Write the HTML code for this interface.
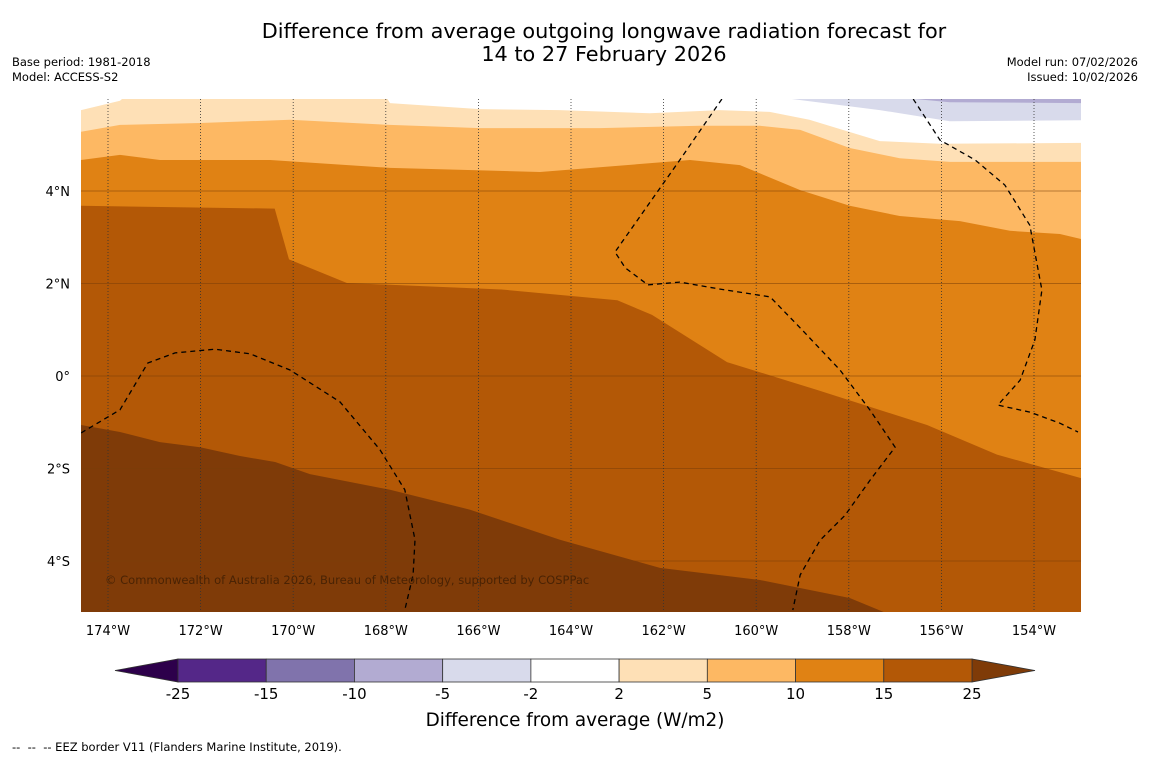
<!DOCTYPE html>
<html><head><meta charset="utf-8"><style>
body{margin:0;background:#fff;width:1150px;height:758px;overflow:hidden;font-family:"DejaVu Sans","Liberation Sans",sans-serif}
</style></head><body>
<svg id="s" width="1150" height="758" xmlns="http://www.w3.org/2000/svg" font-family="DejaVu Sans, Liberation Sans, sans-serif">
<text x="604" y="38" font-size="20.8" text-anchor="middle">Difference from average outgoing longwave radiation forecast for</text>
<text x="604" y="61" font-size="20.8" text-anchor="middle">14 to 27 February 2026</text>
<text x="12" y="66" font-size="11.5">Base period: 1981-2018</text>
<text x="12" y="81" font-size="11.5">Model: ACCESS-S2</text>
<text x="1138" y="66" font-size="11.5" text-anchor="end">Model run: 07/02/2026</text>
<text x="1138" y="81" font-size="11.5" text-anchor="end">Issued: 10/02/2026</text>
<g id="map"></g>
<g id="cb"></g>
<text x="575" y="726" font-size="18.4" text-anchor="middle">Difference from average (W/m2)</text>
<text x="12" y="751" font-size="11.5" xml:space="preserve" style="white-space:pre">--  --  -- EEZ border V11 (Flanders Marine Institute, 2019).</text>
</svg>
<script>
const lonTicks=[-174,-172,-170,-168,-166,-164,-162,-160,-158,-156,-154];
const latTicks=[4,2,0,-2,-4];
const levels=["-25","-15","-10","-5","-2","2","5","10","15","25"];
const levelColors=["#542788","#8073ac","#b2abd2","#d8daeb","#ffffff","#fee0b6","#fdb863","#e08214","#b35806"];
const b25=[[-174.58,-1.06],[-173.74,-1.21],[-172.88,-1.43],[-172.01,-1.54],[-171.15,-1.73],[-170.39,-1.86],[-169.64,-2.12],[-167.91,-2.46],[-166.18,-2.89],[-164.24,-3.54],[-162.08,-4.15],[-159.92,-4.41],[-157.98,-4.80],[-157.01,-5.2],[-152.5,-5.5]];
const b15=[[-174.58,3.68],[-170.4,3.62],[-170.09,2.52],[-168.84,2.01],[-165.5,1.87],[-163.0,1.64],[-162.25,1.32],[-160.63,0.30],[-158.69,-0.30],[-156.31,-1.06],[-154.80,-1.70],[-152.98,-2.21]];
const b10=[[-174.58,4.67],[-173.74,4.78],[-172.88,4.67],[-170.50,4.67],[-167.91,4.50],[-164.67,4.41],[-161.43,4.67],[-160.35,4.56],[-159.05,4.02],[-157.98,3.68],[-156.90,3.46],[-155.60,3.35],[-154.52,3.14],[-153.44,3.07],[-152.98,2.96]];
const b5=[[-174.58,5.28],[-173.74,5.43],[-172.01,5.47],[-170.07,5.54],[-167.91,5.43],[-165.97,5.36],[-163.38,5.36],[-161.22,5.41],[-159.92,5.41],[-159.05,5.32],[-157.98,4.93],[-156.90,4.71],[-155.82,4.63],[-152.98,4.63]];
const b2=[[-174.58,5.75],[-173.74,5.95],[-173.63,6.05],[-168.0,6.05],[-167.91,5.90],[-165.97,5.77],[-164.24,5.75],[-162.30,5.68],[-160.79,5.75],[-159.71,5.71],[-158.85,5.54],[-157.33,5.08],[-156.04,5.02],[-152.98,5.04]];
const bm2=[[-159.71,6.05],[-157.33,5.75],[-155.82,5.51],[-152.98,5.53]];
const bm5=[[-157.22,6.05],[-155.82,5.92],[-152.98,5.90]];
const eezA=[[-174.58,-1.23],[-173.74,-0.73],[-173.14,0.28],[-172.55,0.50],[-171.69,0.58],[-170.93,0.48],[-170.07,0.13],[-168.99,-0.56],[-168.13,-1.59],[-167.59,-2.46],[-167.37,-3.54],[-167.41,-4.30],[-167.59,-5.06]];
const eezB=[[-160.74,5.99],[-161.65,4.67],[-163.05,2.68],[-162.83,2.34],[-162.34,1.97],[-161.65,2.03],[-160.78,1.88],[-159.70,1.71],[-159.05,1.04],[-158.19,0.13],[-157.54,-0.74],[-157.0,-1.54],[-157.54,-2.25],[-158.08,-3.01],[-158.62,-3.55],[-159.05,-4.30],[-159.21,-5.06]];
const eezC=[[-156.61,5.99],[-156.03,5.10],[-155.27,4.67],[-154.63,4.13],[-154.09,3.26],[-153.83,1.86],[-153.98,0.78],[-154.30,-0.09],[-154.78,-0.63],[-154.09,-0.78],[-153.44,-1.02],[-153.05,-1.21]];
const X0=-174,X1=-154,PX0=108,PX1=1034,Y0=4,Y1=-4,PY0=191,PY1=561;
const L=81,R=1081,T=99,B=612;
function xs(lon){return PX0+(lon-X0)*(PX1-PX0)/(X1-X0);}
function ys(lat){return PY0+(lat-Y0)*(PY1-PY0)/(Y1-Y0);}
const NS="http://www.w3.org/2000/svg";
const map=document.getElementById('map');
function mk(tag,attrs,parent){const e=document.createElementNS(NS,tag);for(const k in attrs)e.setAttribute(k,attrs[k]);parent.appendChild(e);return e;}
const defs=mk('defs',{},map);
const cp=mk('clipPath',{id:'clip'},defs);mk('rect',{x:L,y:T,width:R-L,height:B-T},cp);
const g=mk('g',{'clip-path':'url(#clip)'},map);
let bg=mk('rect',{x:L,y:T,width:R-L,height:B-T,fill:'#7f3b08'},g);


function above(line,fill,name){
  let d='M'+line.map(p=>xs(p[0]).toFixed(1)+','+ys(p[1]).toFixed(1)).join(' L')+` L${R+20},${T-20} L${L-20},${T-20} Z`;
  const p=mk('path',{d:d,fill:fill},g);
  
  
}
above(b25,'#b35806','region-15-25');
above(b15,'#e08214','region-10-15');
above(b10,'#fdb863','region-5-10');
above(b5,'#fee0b6','region-2-5');
above(b2,'#ffffff','region-neutral');
above(bm2,'#d8daeb','region-minus2-5');
above(bm5,'#b2abd2','region-minus5-10');
latTicks.forEach(v=>{const l=mk('line',{x1:L,x2:R,y1:ys(v),y2:ys(v),stroke:'#7a3e08','stroke-width':0.8,opacity:0.7},g);

});
lonTicks.forEach(v=>{const l=mk('line',{x1:xs(v),x2:xs(v),y1:T,y2:B,stroke:'#333','stroke-width':0.8,'stroke-dasharray':'1,2'},g);

});
[eezA,eezB,eezC].forEach(a=>{const p=mk('polyline',{points:a.map(q=>xs(q[0]).toFixed(1)+','+ys(q[1]).toFixed(1)).join(' '),fill:'none',stroke:'#000','stroke-width':1.3,'stroke-dasharray':'5,4'},g);

});
let ct=mk('text',{x:105,y:584,'font-size':11.5,fill:'#4a2304'},g);ct.textContent='© Commonwealth of Australia 2026, Bureau of Meteorology, supported by COSPPac';


lonTicks.forEach(v=>{const t=mk('text',{x:xs(v),y:635,'font-size':13,'text-anchor':'middle'},map);t.textContent=Math.abs(v)+'°W';

});
latTicks.forEach(v=>{const t=mk('text',{x:70,y:ys(v)+5,'font-size':13,'text-anchor':'end'},map);t.textContent=v>0?v+'°N':v<0?(-v)+'°S':'0°';

});
const cb=document.getElementById('cb');
const cx0=178,cx1=972,cy=659,ch=23,w=(cx1-cx0)/levelColors.length;
let la=mk('polygon',{points:`115,${cy+ch/2} ${cx0},${cy} ${cx0},${cy+ch}`,fill:'#2d004b',stroke:'#333','stroke-width':0.8},cb);


let ra=mk('polygon',{points:`1035,${cy+ch/2} ${cx1},${cy} ${cx1},${cy+ch}`,fill:'#7f3b08',stroke:'#333','stroke-width':0.8},cb);


levelColors.forEach((c,i)=>{const r=mk('rect',{x:cx0+i*w,y:cy,width:w,height:ch,fill:c,stroke:'#333','stroke-width':0.8},cb);

});
levels.forEach((s,i)=>{const t=mk('text',{x:cx0+i*w,y:cy+ch+17,'font-size':15,'text-anchor':'middle'},cb);t.textContent=s;

});
</script>
</body></html>
